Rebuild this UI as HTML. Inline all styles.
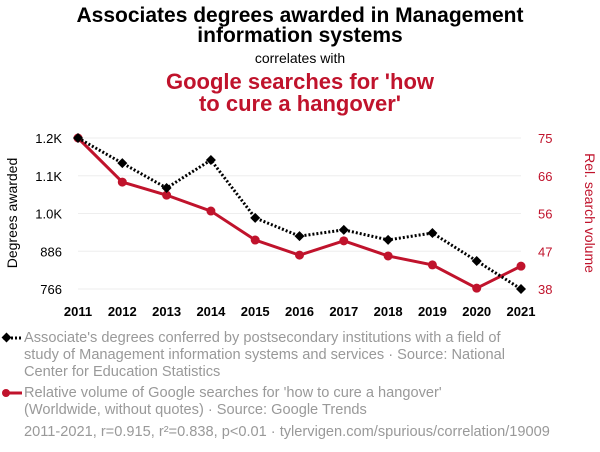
<!DOCTYPE html>
<html><head><meta charset="utf-8"><style>
body{margin:0;background:#fff;font-family:"Liberation Sans",sans-serif;}
#wrap{width:600px;height:452px;position:relative;overflow:hidden;}
</style></head><body>
<div id="wrap">
<svg id="chart" width="600" height="452" xmlns="http://www.w3.org/2000/svg">
<text x="300" y="22" text-anchor="middle" font-size="21" font-weight="bold" fill="#000">Associates degrees awarded in Management</text>
<text x="300" y="42" text-anchor="middle" font-size="21" font-weight="bold" fill="#000">information systems</text>
<text x="300" y="63" text-anchor="middle" font-size="14" fill="#000">correlates with</text>
<text x="300" y="89" text-anchor="middle" font-size="22" font-weight="bold" fill="#c0132c">Google searches for 'how</text>
<text x="300" y="111" text-anchor="middle" font-size="22" font-weight="bold" fill="#c0132c">to cure a hangover'</text>
<g id="grid"></g><g id="axes"></g><g id="series"></g>
<text transform="translate(17,213) rotate(-90)" text-anchor="middle" font-size="14" fill="#000">Degrees awarded</text>
<text transform="translate(585,213) rotate(90)" text-anchor="middle" font-size="14" fill="#c0132c">Rel. search volume</text>
<g>
<line x1="3" y1="338" x2="22" y2="338" stroke="#000" stroke-width="3" stroke-dasharray="2,2"/>
<rect x="3" y="334" width="7" height="7" transform="rotate(45 6.5 337.5)" fill="#000"/>
<text x="24" y="342" font-size="14.6" fill="#999">Associate's degrees conferred by postsecondary institutions with a field of</text>
<text x="24" y="359" font-size="14.6" fill="#999">study of Management information systems and services · Source: National</text>
<text x="24" y="376" font-size="14.6" fill="#999">Center for Education Statistics</text>
</g>
<g>
<line x1="3" y1="393" x2="22" y2="393" stroke="#c0132c" stroke-width="3"/>
<circle cx="6" cy="393" r="4" fill="#c0132c"/>
<text x="24" y="397" font-size="14.6" fill="#999">Relative volume of Google searches for 'how to cure a hangover'</text>
<text x="24" y="414" font-size="14.6" fill="#999">(Worldwide, without quotes) · Source: Google Trends</text>
</g>
<text x="24" y="436" font-size="14.6" fill="#999">2011-2021, r=0.915, r²=0.838, p&lt;0.01 · tylervigen.com/spurious/correlation/19009</text>
</svg>
</div>
<script>
const years=[2011,2012,2013,2014,2015,2016,2017,2018,2019,2020,2021];
const degrees=[1246,1166,1087,1176,992,934,954,922,944,855,766];
const searches=[75,64.2,61,57.1,50,46.3,49.8,46.1,43.9,38.2,43.6];
const leftTicks=[766,886,1006,1126,1246];
const leftTickLabels=["766","886","1.0K","1.1K","1.2K"];
const rightTicks=[38,47.25,56.5,65.75,75];
const rightTickLabels=["38","47","56","66","75"];
const NS="http://www.w3.org/2000/svg";
const x0=78,x1=521,yTop=138,yBot=289;
const xs=y=>x0+(y-years[0])/(years[years.length-1]-years[0])*(x1-x0);
const yl=v=>yBot-(v-766)/(1246-766)*(yBot-yTop);
const yr=v=>yBot-(v-38)/(75-38)*(yBot-yTop);
function mk(tag,attrs,parent){const e=document.createElementNS(NS,tag);for(const k in attrs)e.setAttribute(k,attrs[k]);document.getElementById(parent).appendChild(e);return e;}
leftTicks.forEach((t,i)=>{
 const g=mk('line',{x1:x0,x2:x1,y1:yl(t),y2:yl(t),stroke:'#eee','stroke-width':1},'grid');
 
 
 const a=mk('text',{x:62,y:yl(t)+5,'text-anchor':'end','font-size':13,fill:'#000'},'axes');a.textContent=leftTickLabels[i];
 
 
});
rightTicks.forEach((t,i)=>{
 const a=mk('text',{x:538,y:yr(t)+5,'text-anchor':'start','font-size':13,fill:'#c0132c'},'axes');a.textContent=rightTickLabels[i];
 
 
});
years.forEach(y=>{
 const a=mk('text',{x:xs(y),y:316,'text-anchor':'middle','font-size':13,'font-weight':'bold',fill:'#000'},'axes');a.textContent=y;
 
 
});
const rp=mk('polyline',{points:years.map((y,i)=>xs(y)+','+yr(searches[i])).join(' '),fill:'none',stroke:'#c0132c','stroke-width':3},'series');


years.forEach((y,i)=>{
 const c=mk('circle',{cx:xs(y),cy:yr(searches[i]),r:4.5,fill:'#c0132c'},'series');
 
 
});
const bp=mk('polyline',{points:years.map((y,i)=>xs(y)+','+yl(degrees[i])).join(' '),fill:'none',stroke:'#000','stroke-width':3,'stroke-dasharray':'2,2'},'series');


years.forEach((y,i)=>{
 const cx=xs(y),cy=yl(degrees[i]);
 const d=mk('polygon',{points:`${cx},${cy-5} ${cx+5},${cy} ${cx},${cy+5} ${cx-5},${cy}`,fill:'#000'},'series');
 
 
});
</script>
</body></html>
